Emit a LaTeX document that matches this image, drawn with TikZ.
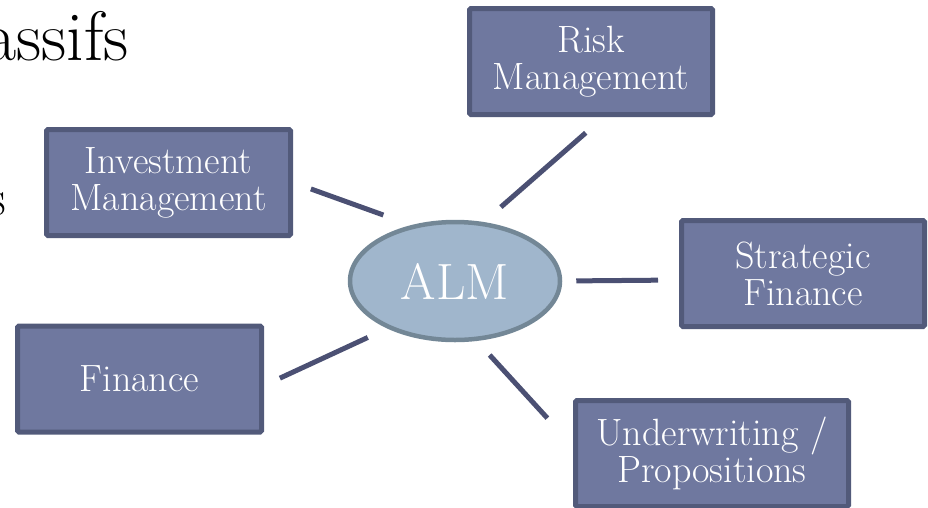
\documentclass[tikz,border=0pt]{standalone}
\usepackage{tikz}
\usetikzlibrary{shapes.geometric, positioning}
\definecolor{boxfill}{HTML}{6F789F}
\definecolor{boxline}{HTML}{525A7A}
\definecolor{almfill}{HTML}{A0B6CC}
\definecolor{almline}{HTML}{738796}
\definecolor{spokeline}{HTML}{4B5073}
\tikzset{
	area/.style={draw=boxline, fill=boxfill, line width=5pt, rounded corners=1.5pt, text=white, align=center, inner sep=0pt, minimum width=243pt, minimum height=106pt, font=\fontsize{38}{37}\selectfont}, % the blue boxes round the centre
	core/.style={ellipse, draw=almline, fill=almfill, line width=4.5pt, text=white, inner sep=0pt, minimum width=210pt, minimum height=118pt, font=\fontsize{51}{51}\selectfont}, % the ALM ellipse
	spoke/.style={draw=spokeline, line width=5pt}, % lines from the centre to the boxes
}

\begin{document}
\begin{tikzpicture}[x=1pt, y=-1pt]
	\useasboundingbox (0,0) rectangle (928,507);
		\node[anchor=base east, inner sep=0pt, font=\fontsize{70}{70}\selectfont] (title) at (129,60) {assifs};
		\node[anchor=base east, inner sep=0pt, font=\fontsize{52}{52}\selectfont] (bullet) at (6,215) {s};
		\node[core] (alm) at (455,281) {ALM};
		\node[area] (risk) at (591,61.5) {Risk\\Management};
		\node[area, minimum width=244pt] (invest) at (168.5,182.5) {Investment\\Management};
		\node[area] (strat) at (803,273.5) {Strategic\\Finance};
		\node[area, minimum width=244pt] (fin) at (139.5,379) {Finance};
		\node[area, minimum width=273pt] (under) at (712,453.5) {Underwriting /\\Propositions};
	\draw[spoke] (alm.128) edge[shorten <=29.7pt, shorten >=19pt] (invest.east)
			(alm.64.6) edge[shorten <=22.7pt, shorten >=24pt] (risk.283.5)
			(alm.east) edge[shorten <=14pt, shorten >=21pt] (strat.183)
			(alm.215) edge[shorten <=21.4pt, shorten >=17.5pt] (fin.357.7)
			(alm.290) edge[shorten <=19pt, shorten >=38pt] (under.177);
	\end{tikzpicture}
\end{document}
